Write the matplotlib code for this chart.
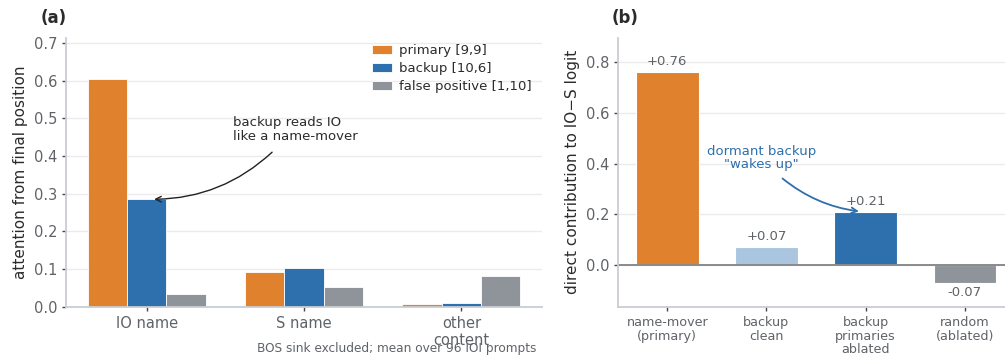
import numpy as np
import matplotlib
matplotlib.use("Agg")
import matplotlib.pyplot as plt

# attention from the final position, per head and target token
targets = ["IO name", "S name", "other\ncontent"]
heads = ["primary [9,9]", "backup [10,6]", "false positive [1,10]"]
attn_primary = [0.605, 0.092, 0.006]
attn_backup = [0.285, 0.104, 0.010]
attn_false_pos = [0.033, 0.053, 0.081]

# direct logit contribution per condition
conditions = ["name-mover\n(primary)", "backup\nclean", "backup\nprimaries\nablated", "random\n(ablated)"]
contrib = [0.76, 0.07, 0.21, -0.07]

ORANGE = "#e0812e"
BLUE = "#2e6fae"
LIGHT_BLUE = "#a9c5df"
GREY = "#8f949b"
SPINE = "#c9ced4"
TICK_TXT = "#5f6368"
LABEL_TXT = "#2b2b2b"

plt.rcParams["font.family"] = ["DejaVu Sans"]


def style_axes(ax):
    for side in ["top", "right"]:
        ax.spines[side].set_visible(False)
    for side in ["left", "bottom"]:
        ax.spines[side].set_color(SPINE)
        ax.spines[side].set_linewidth(1.3)
    ax.yaxis.grid(True, color="#ebebeb", linewidth=1.0)
    ax.set_axisbelow(True)
    ax.tick_params(axis="both", colors="#444444", labelcolor=TICK_TXT,
                   length=3, width=1)


fig = plt.figure(figsize=(10.05, 3.55), dpi=100)
ax_a = fig.add_axes([0.0657, 0.136, 0.4736, 0.758])
ax_b = fig.add_axes([0.615, 0.136, 0.394, 0.758])

# ---- (a) attention pattern ----
x = np.arange(len(targets))
w = 0.25
series = [attn_primary, attn_backup, attn_false_pos]
colors = [ORANGE, BLUE, GREY]
for i, (vals, c, name) in enumerate(zip(series, colors, heads)):
    ax_a.bar(x + (i - 1) * w, vals, w, color=c, edgecolor="white",
             linewidth=0.6, label=name)
style_axes(ax_a)
ax_a.set_xticks(x)
ax_a.set_xticklabels(targets, fontsize=10.5)
ax_a.tick_params(axis="y", labelsize=10.5)
ax_a.set_ylim(0, max(attn_primary) * 1.18)
ax_a.set_yticks(np.arange(0, 0.71, 0.1))
ax_a.set_ylabel("attention from final position", fontsize=11, color=LABEL_TXT)
ax_a.legend(loc="upper right", frameon=False, fontsize=9.5,
            handlelength=1.5, handleheight=0.6, labelspacing=0.38,
            handletextpad=0.6, bbox_to_anchor=(0.993, 1.0), borderaxespad=0.1,
            labelcolor=LABEL_TXT)

ax_a.text(0.55, 0.505, "backup reads IO\nlike a name-mover", fontsize=9.5,
          color=LABEL_TXT, ha="left", va="top", linespacing=1.05)
ax_a.annotate("", xy=(0.03, attn_backup[0]), xytext=(0.81, 0.415),
              arrowprops=dict(arrowstyle="->", color="#222222", lw=1.0,
                              connectionstyle="arc3,rad=-0.2"))

fig.text(0.534, 0.017, "BOS sink excluded; mean over 96 IOI prompts",
         fontsize=8.7, color=TICK_TXT, ha="right", va="center")

# ---- (b) direct contribution ----
xb = np.arange(len(conditions))
bar_colors = [ORANGE, LIGHT_BLUE, BLUE, GREY]
ax_b.bar(xb, contrib, 0.63, color=bar_colors, edgecolor="white", linewidth=0.8)
style_axes(ax_b)
ax_b.axhline(0, color="#8a8a8a", linewidth=1.4, zorder=1)
ax_b.set_xticks(xb)
ax_b.set_xticklabels(conditions, fontsize=9.2, linespacing=1.08)
ax_b.tick_params(axis="y", labelsize=10.5)
ax_b.set_ylim(-0.165, max(contrib) * 1.18)
ax_b.set_yticks([0.0, 0.2, 0.4, 0.6, 0.8])
ax_b.set_ylabel("direct contribution to IO\u2212S logit", fontsize=11,
                color=LABEL_TXT)
for xi, v in zip(xb, contrib):
    if v >= 0:
        ax_b.text(xi, v + 0.015, f"+{v:.2f}", ha="center", va="bottom",
                  fontsize=9.5, color=TICK_TXT)
    else:
        ax_b.text(xi, v - 0.015, f"{v:.2f}", ha="center", va="top",
                  fontsize=9.5, color=TICK_TXT)

ax_b.text(0.95, 0.475, "dormant backup\n\"wakes up\"", fontsize=9.5,
          color=BLUE, ha="center", va="top", linespacing=1.05)
ax_b.annotate("", xy=(1.96, contrib[2]), xytext=(1.14, 0.348),
              arrowprops=dict(arrowstyle="->", color=BLUE, lw=1.3,
                              connectionstyle="arc3,rad=0.15"))

fig.text(0.040, 0.949, "(a)", fontsize=12, fontweight="bold",
         color=LABEL_TXT, va="center", ha="left")
fig.text(0.609, 0.949, "(b)", fontsize=12, fontweight="bold",
         color=LABEL_TXT, va="center", ha="left")

fig.savefig("out.png", dpi=100)
